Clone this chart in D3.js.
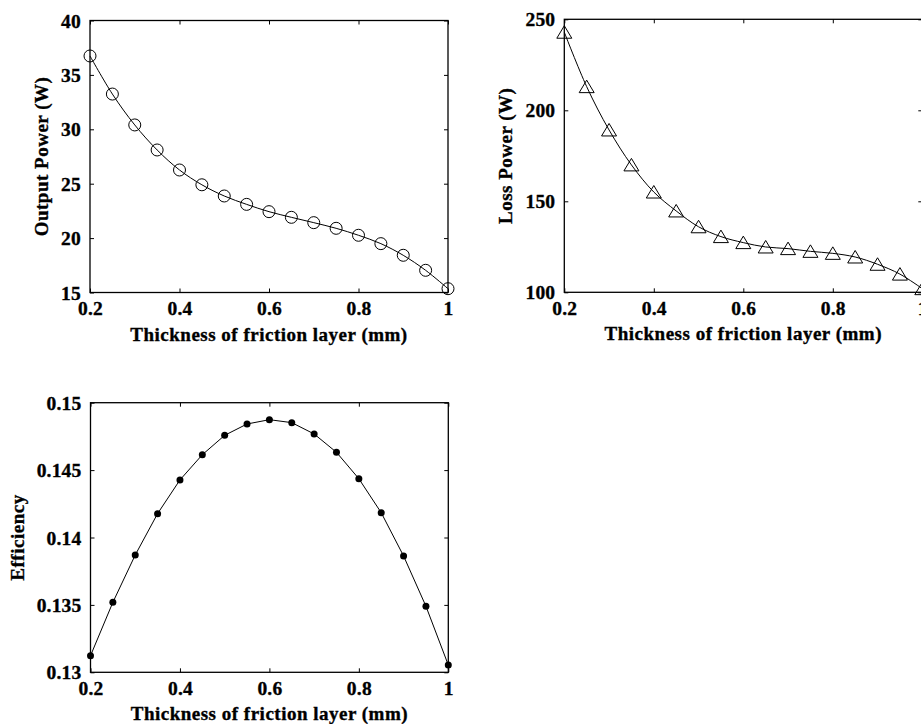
<!DOCTYPE html>
<html>
<head>
<meta charset="utf-8">
<script src="https://cdn.jsdelivr.net/npm/d3@7"></script>
<style>
  html, body { margin: 0; padding: 0; background: #fff; }
  svg { display: block; }
  text { font-family: "Liberation Serif", "Times New Roman", serif; font-weight: bold; fill: #000;
         stroke: #000; stroke-width: 0.35px; }
</style>
</head>
<body>
<svg id="fig" width="921" height="724"></svg>
<script>
// Friction layer thickness (mm) and the three measured quantities
const thickness = [0.2, 0.25, 0.3, 0.35, 0.4, 0.45, 0.5, 0.55, 0.6, 0.65, 0.7, 0.75, 0.8, 0.85, 0.9, 0.95, 1.0];
const outputPower = [36.74, 33.24, 30.40, 28.10, 26.26, 24.90, 23.87, 23.10, 22.43, 21.91, 21.42, 20.90, 20.26, 19.49, 18.42, 17.04, 15.35];
const lossPower = [242.9, 213.0, 189.2, 170.0, 155.1, 144.7, 136.0, 130.6, 127.3, 124.9, 124.0, 122.5, 121.4, 119.4, 115.4, 110.0, 102.0];
const efficiency = [0.13123, 0.13519, 0.13870, 0.14177, 0.14427, 0.14614, 0.14758, 0.14842, 0.14874, 0.14852, 0.14768, 0.14632, 0.14436, 0.14184, 0.13863, 0.13490, 0.13054];

const xTicks = [0.2, 0.4, 0.6, 0.8, 1];
const outputTicks = [15, 20, 25, 30, 35, 40];
const lossTicks = [100, 150, 200, 250];
const effTicks = [0.13, 0.135, 0.14, 0.145, 0.15];

const xTitle = "Thickness of friction layer (mm)";

const svg = d3.select("#fig");

function panel(opts) {
  const { left, right, top, bottom, values, yDomain, yTicks, yTitle, yTitleX, marker, curve } = opts;
  const x = d3.scaleLinear().domain([0.2, 1]).range([left, right]);
  const y = d3.scaleLinear().domain(yDomain).range([bottom, top]);
  const g = svg.append("g");
  const pts = thickness.map((t, i) => [t, values[i]]);

  // inward ticks on all four sides
  const tk = 4;
  const fmt = d => String(+d.toFixed(4));
  const bottomAxis = d3.axisBottom(x).tickValues(xTicks).tickSize(-tk).tickPadding(9).tickFormat(fmt);
  const topAxis = d3.axisTop(x).tickValues(xTicks).tickSize(-tk).tickFormat("");
  const leftAxis = d3.axisLeft(y).tickValues(yTicks).tickSize(-tk).tickPadding(9).tickFormat(fmt);
  const rightAxis = d3.axisRight(y).tickValues(yTicks).tickSize(-tk).tickFormat("");

  const styleAxis = sel => {
    sel.select(".domain").remove();
    sel.selectAll(".tick line").attr("stroke", "#000").attr("stroke-width", 1);
    sel.selectAll("text").style("font-size", "19.5px").style("letter-spacing", "0.2px")
      .attr("fill", "#000");
  };
  g.append("g").attr("transform", `translate(0,${bottom})`).call(bottomAxis).call(styleAxis)
    .selectAll("text").attr("dy", "0.71em");
  g.append("g").attr("transform", `translate(0,${top})`).call(topAxis).call(styleAxis);
  g.append("g").attr("transform", `translate(${left},0)`).call(leftAxis).call(styleAxis)
    .selectAll("text").attr("dy", "0.34em");
  g.append("g").attr("transform", `translate(${right},0)`).call(rightAxis).call(styleAxis);

  // axes box
  g.append("rect").attr("x", left).attr("y", top)
    .attr("width", right - left).attr("height", bottom - top)
    .attr("fill", "none").attr("stroke", "#000").attr("stroke-width", 1.3);

  // data curve
  const line = d3.line().x(d => x(d[0])).y(d => y(d[1])).curve(curve);
  g.append("path").datum(pts).attr("d", line)
    .attr("fill", "none").attr("stroke", "#000").attr("stroke-width", 1);

  // markers
  const m = g.append("g");
  pts.forEach(d => {
    const cx = x(d[0]), cy = y(d[1]);
    if (marker === "circle") {
      m.append("circle").attr("cx", cx).attr("cy", cy).attr("r", 6)
        .attr("fill", "none").attr("stroke", "#000").attr("stroke-width", 1);
    } else if (marker === "triangle") {
      m.append("path")
        .attr("d", `M${cx},${cy - 6.5}L${cx + 7.5},${cy + 6}L${cx - 7.5},${cy + 6}Z`)
        .attr("fill", "none").attr("stroke", "#000").attr("stroke-width", 1);
    } else {
      m.append("circle").attr("cx", cx).attr("cy", cy).attr("r", 3.5).attr("fill", "#000");
    }
  });

  // axis titles
  g.append("text").attr("x", (left + right) / 2).attr("y", bottom + 48)
    .attr("text-anchor", "middle").style("font-size", "19px").style("letter-spacing", "0.5px")
    .text(xTitle);
  g.append("text").attr("transform", `translate(${yTitleX},${(top + bottom) / 2}) rotate(-90)`)
    .attr("text-anchor", "middle").attr("dy", "0.34em")
    .style("font-size", "19px").style("letter-spacing", "0.5px")
    .text(yTitle);
}

panel({ left: 90, right: 448, top: 20.5, bottom: 292.5, values: outputPower,
  yDomain: [15, 40], yTicks: outputTicks, yTitle: "Output Power (W)", yTitleX: 42,
  marker: "circle", curve: d3.curveCatmullRom });

panel({ left: 564.3, right: 922.3, top: 19.3, bottom: 292.3, values: lossPower,
  yDomain: [100, 250], yTicks: lossTicks, yTitle: "Loss Power (W)", yTitleX: 506,
  marker: "triangle", curve: d3.curveCatmullRom });

panel({ left: 90.5, right: 448.3, top: 402.7, bottom: 672.3, values: efficiency,
  yDomain: [0.13, 0.15], yTicks: effTicks, yTitle: "Efficiency", yTitleX: 18,
  marker: "dot", curve: d3.curveLinear });
</script>
</body>
</html>
